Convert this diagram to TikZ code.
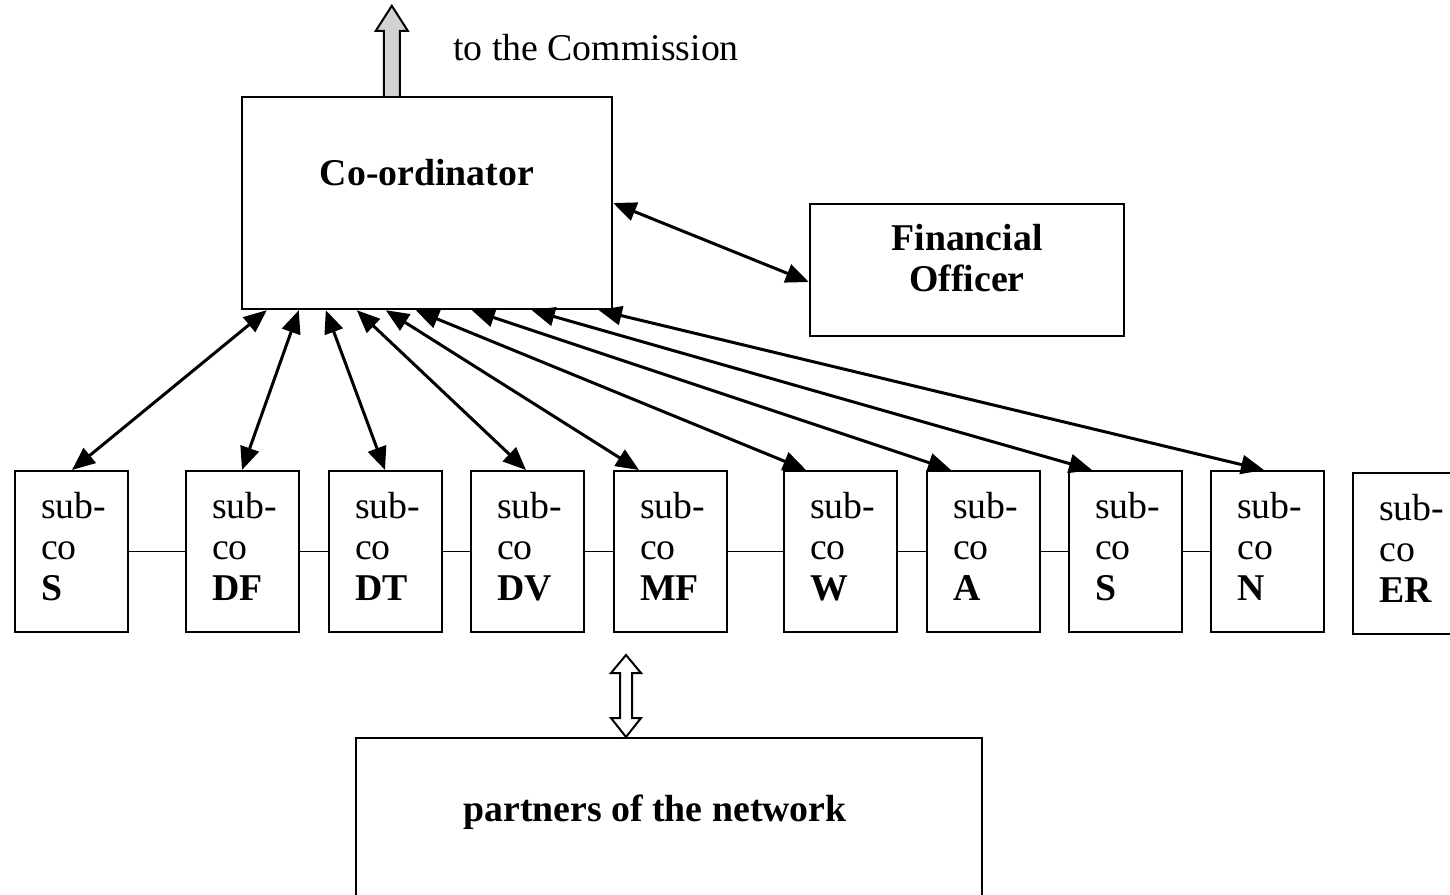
\documentclass[tikz,border=0pt]{standalone}
\usepackage{fontspec}
\setmainfont{Liberation Serif}
\usetikzlibrary{arrows.meta,calc}
\newcommand{\subco}[1]{\hspace*{13pt}sub-\\\hspace*{13pt}co\\\hspace*{13pt}\textbf{#1}\rule[-10pt]{0pt}{10pt}}
\begin{document}
\begin{tikzpicture}[x=1pt,y=-1pt,
  txt/.style={font=\fontsize{37.8}{41}\selectfont, inner sep=0pt},
  btxt/.style={font=\fontsize{37.8}{41}\selectfont\bfseries, inner sep=0pt, align=center},
  bigbox/.style={draw, line width=2.4pt, inner sep=0pt},
  subbox/.style={draw, line width=2.4pt, minimum width=113pt, minimum height=161pt,
     inner xsep=0pt, text width=87pt, align=left, anchor=north west,
     font=\fontsize{37.8}{41}\selectfont},
  link/.style={line width=1.5pt},
  dbl/.style={line width=3pt, {Triangle[length=23pt,width=19pt]}-{Triangle[length=23pt,width=19pt]}},
  blockarrow/.style={draw, line width=2pt, line join=miter}
]
\useasboundingbox (0,0) rectangle (1450,894);

% main boxes
\node[bigbox, minimum width=370pt, minimum height=212pt] (coord) at (427,203) {};
\node[btxt] (coordtext) at (427,173) {Co-ordinator};
\node[bigbox, minimum width=314pt, minimum height=132pt] (fo) at (967,270) {};
\node[btxt] (fotext) at (967,258) {Financial\\Officer};
\node[txt, anchor=west] (comm) at (453,48) {to the Commission};

% sub-co boxes
\node[subbox] (s1) at (14,470) {\subco{S}};
\node[subbox] (s2) at (185,470) {\subco{DF}};
\node[subbox] (s3) at (328,470) {\subco{DT}};
\node[subbox] (s4) at (470,470) {\subco{DV}};
\node[subbox] (s5) at (613,470) {\subco{MF}};
\node[subbox] (s6) at (783,470) {\subco{W}};
\node[subbox] (s7) at (926,470) {\subco{A}};
\node[subbox] (s8) at (1068,470) {\subco{S}};
\node[subbox] (s9) at (1210,470) {\subco{N}};
\node[subbox] (s10) at (1352,472) {\subco{ER}};

% partners box (extends beyond the bottom edge)
\node[bigbox, minimum width=626pt, minimum height=230pt, anchor=north] (partners) at (669,737) {};
\node[btxt] (partnerstext) at (655,812) {partners of the network};

% links between sub-co boxes
\foreach \a/\b in {s1/s2,s2/s3,s3/s4,s4/s5,s5/s6,s6/s7,s7/s8,s8/s9}
  \draw[link] (\a.east) -- (\b.west);

% arrows coordinator <-> sub-co
\draw[dbl] ([xshift=26pt]coord.south west) -- ([xshift=58pt]s1.north west);
\draw[dbl] ([xshift=58pt]coord.south west) -- ([xshift=57pt]s2.north west);
\draw[dbl] ([xshift=85pt]coord.south west) -- ([xshift=57pt]s3.north west);
\draw[dbl] ([xshift=116pt]coord.south west) -- ([xshift=56pt]s4.north west);
\draw[dbl] ([xshift=145pt]coord.south west) -- ([xshift=26pt]s5.north west);
\draw[dbl] ([xshift=175pt]coord.south west) -- ([xshift=23pt]s6.north west);
\draw[dbl] ([xshift=231pt]coord.south west) -- ([xshift=25pt]s7.north west);
\draw[dbl] ([xshift=291pt]coord.south west) -- ([xshift=24pt]s8.north west);
\draw[dbl] ([xshift=358pt]coord.south west) -- ([xshift=54pt]s9.north west);

% coordinator <-> financial officer
\draw[dbl] (coord.east) -- ([yshift=-12pt]fo.west);

% block arrow up to the Commission
\coordinate (ub) at ($(coord.north west)+(151,0)$);
\fill[gray!35] ($(ub)+(-8,0)$) -- ($(ub)+(-8,-65)$) -- ($(ub)+(-16,-65)$) -- ($(ub)+(0,-90)$)
   -- ($(ub)+(16,-65)$) -- ($(ub)+(8,-65)$) -- ($(ub)+(8,0)$) -- cycle;
\draw[blockarrow] ($(ub)+(-8,0)$) -- ($(ub)+(-8,-65)$) -- ($(ub)+(-16,-65)$) -- ($(ub)+(0,-90)$)
   -- ($(ub)+(16,-65)$) -- ($(ub)+(8,-65)$) -- ($(ub)+(8,0)$);

% hollow double block arrow sub-co MF <-> partners
\coordinate (db) at (partners.north -| 626,0);
\coordinate (dt) at (626,655);
\draw[blockarrow, fill=white] (db) -- ($(db)+(-15,-19)$) -- ($(db)+(-6,-19)$) -- ($(dt)+(-6,18)$)
   -- ($(dt)+(-15,18)$) -- (dt) -- ($(dt)+(15,18)$) -- ($(dt)+(6,18)$) -- ($(db)+(6,-19)$)
   -- ($(db)+(15,-19)$) -- cycle;
\end{tikzpicture}
\end{document}
